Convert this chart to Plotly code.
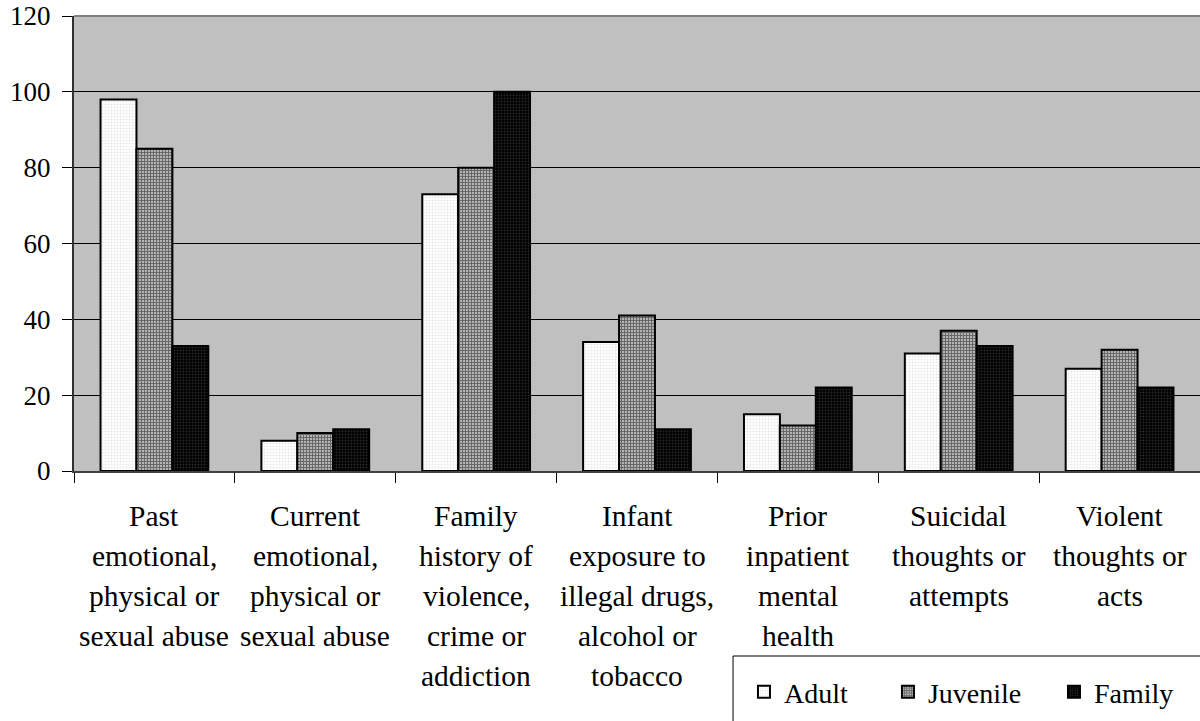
import plotly.graph_objects as go

FONT = "Times New Roman, Liberation Serif, serif"

categories = [
    "Past emotional, physical or sexual abuse",
    "Current emotional, physical or sexual abuse",
    "Family history of violence, crime or addiction",
    "Infant exposure to illegal drugs, alcohol or tobacco",
    "Prior inpatient mental health",
    "Suicidal thoughts or attempts",
    "Violent thoughts or acts",
]
label_lines = [
    ["Past", "emotional,", "physical or", "sexual abuse"],
    ["Current", "emotional,", "physical or", "sexual abuse"],
    ["Family", "history of", "violence,", "crime or", "addiction"],
    ["Infant", "exposure to", "illegal drugs,", "alcohol or", "tobacco"],
    ["Prior", "inpatient", "mental", "health"],
    ["Suicidal", "thoughts or", "attempts"],
    ["Violent", "thoughts or", "acts"],
]
adult = [98, 8, 73, 34, 15, 31, 27]
juvenile = [85, 10, 80, 41, 12, 37, 32]
family = [33, 11, 100, 11, 22, 33, 22]
y_ticks = [0, 20, 40, 60, 80, 100, 120]

series = [
    ("Adult", adult, 99,
     dict(shape=".", bgcolor="white", fgcolor="#cfcfcf", size=3, solidity=0.3)),
    ("Juvenile", juvenile, 121,
     dict(shape="+", bgcolor="#b4b4b4", fgcolor="#1a1a1a", size=3, solidity=0.55)),
    ("Family", family, 100,
     dict(shape=".", bgcolor="black", fgcolor="#555555", size=3, solidity=0.3)),
]

fig = go.Figure()
for name, vals, lw, pattern in series:
    fig.add_trace(
        go.Bar(
            x=categories,
            y=vals,
            name=name,
            legendwidth=lw,
            marker=dict(pattern=pattern, line=dict(color="black", width=2)),
        )
    )

annotations = []
for cat, lines in zip(categories, label_lines):
    for i, line in enumerate(lines):
        annotations.append(
            dict(
                x=cat, y=0, xref="x", yref="y",
                text=line, showarrow=False,
                yanchor="middle", xanchor="center",
                yshift=-(45 + 40 * i),
                font=dict(family=FONT, size=29.5, color="black"),
            )
        )

fig.update_layout(
    width=1200,
    height=721,
    margin=dict(l=74, r=0, t=16, b=250),
    paper_bgcolor="white",
    plot_bgcolor="#c0c0c0",
    barmode="group",
    bargap=0.33,
    bargroupgap=0,
    font=dict(family=FONT, size=28, color="black"),
    annotations=annotations,
    shapes=[
        dict(type="line", xref="paper", yref="paper", x0=0, x1=1, y0=1, y1=1,
             line=dict(color="#808080", width=2)),
        # legend frame, running off the bottom/right like the original
        dict(type="rect", xref="paper", yref="paper", x0=0.5853, x1=1.02,
             y0=-0.4066, y1=-0.62, fillcolor="white",
             line=dict(color="black", width=1)),
    ],
    legend=dict(
        orientation="h",
        x=0.595, xanchor="left",
        y=-0.4857, yanchor="middle",
        bgcolor="rgba(0,0,0,0)",
        borderwidth=0,
        font=dict(family=FONT, size=28, color="black"),
        itemwidth=30,
        traceorder="normal",
    ),
)

fig.update_xaxes(
    type="category",
    range=[-0.5, 6.5],
    tickson="boundaries",
    ticks="outside",
    ticklen=10,
    tickcolor="black",
    showticklabels=False,
    showline=True,
    linecolor="#404040",
    linewidth=2,
    showgrid=False,
)
fig.update_yaxes(
    range=[0, 120],
    tickvals=y_ticks,
    ticks="outside",
    ticklen=10,
    tickcolor="black",
    ticklabelstandoff=6,
    tickfont=dict(family=FONT, size=27, color="black"),
    showline=True,
    linecolor="#303030",
    linewidth=2,
    showgrid=True,
    gridcolor="black",
    gridwidth=1,
    zeroline=False,
)

fig.write_html(
    "out.html",
    config={"displayModeBar": False},
    post_script="document.body.style.margin='0';",
)
